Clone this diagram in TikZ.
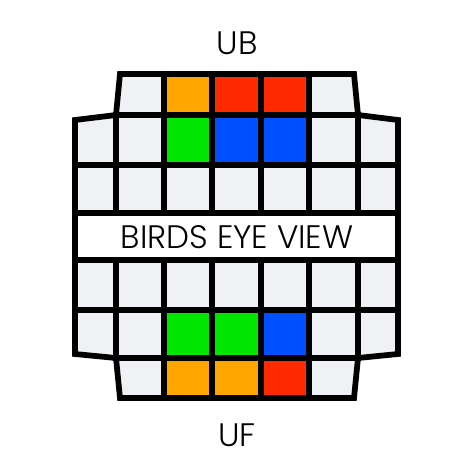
\documentclass[tikz,border=0pt]{standalone}
\usepackage{fontspec}
\setmainfont{Poppins Light}
\definecolor{cubewhite}{HTML}{F0F1F5}
\definecolor{cubeorange}{HTML}{FFA500}
\definecolor{cubered}{HTML}{FF2A00}
\definecolor{cubegreen}{HTML}{00E600}
\definecolor{cubeblue}{HTML}{0050FF}
\tikzset{
  sticker/.style={draw=black, line width=0.115cm, fill=cubewhite},
  facelabel/.style={font=\fontsize{18.5}{22}\selectfont, text=black, inner sep=0pt}
}
\begin{document}
\begin{tikzpicture}[x=0.02cm, y=-0.02cm]
      \useasboundingbox (0,0) rectangle (474,474);
      % top row
      \draw[sticker] (120,74) -- (164,74) -- (164,115) -- (116,115) -- cycle;
      \draw[sticker, fill=cubeorange] (164,74) rectangle (212,115);
      \draw[sticker, fill=cubered] (212,74) rectangle (261,115);
      \draw[sticker, fill=cubered] (261,74) rectangle (309,115);
      \draw[sticker] (309,74) -- (354,74) -- (358,115) -- (309,115) -- cycle;
      % second row
      \draw[sticker] (75,120) -- (116,115) -- (116,165) -- (75,165) -- cycle;
      \draw[sticker] (116,115) rectangle (164,165);
      \draw[sticker, fill=cubegreen] (164,115) rectangle (212,165);
      \draw[sticker, fill=cubeblue] (212,115) rectangle (261,165);
      \draw[sticker, fill=cubeblue] (261,115) rectangle (309,165);
      \draw[sticker] (309,115) rectangle (358,165);
      \draw[sticker] (358,115) -- (398,120) -- (398,165) -- (358,165) -- cycle;
      % third row
      \draw[sticker] (75,165) rectangle (116,213);
      \draw[sticker] (116,165) rectangle (164,213);
      \draw[sticker] (164,165) rectangle (212,213);
      \draw[sticker] (212,165) rectangle (261,213);
      \draw[sticker] (261,165) rectangle (309,213);
      \draw[sticker] (309,165) rectangle (358,213);
      \draw[sticker] (358,165) rectangle (398,213);
      % band
      \draw[sticker, fill=white] (75,213) rectangle (398,260);
      \node[facelabel] (view) at (237,237) {BIRDS EYE VIEW};
      % fourth row
      \draw[sticker] (75,260) rectangle (116,310);
      \draw[sticker] (116,260) rectangle (164,310);
      \draw[sticker] (164,260) rectangle (212,310);
      \draw[sticker] (212,260) rectangle (261,310);
      \draw[sticker] (261,260) rectangle (309,310);
      \draw[sticker] (309,260) rectangle (358,310);
      \draw[sticker] (358,260) rectangle (398,310);
      % fifth row
      \draw[sticker] (75,310) -- (116,310) -- (116,358) -- (75,354) -- cycle;
      \draw[sticker] (116,310) rectangle (164,358);
      \draw[sticker, fill=cubegreen] (164,310) rectangle (212,358);
      \draw[sticker, fill=cubegreen] (212,310) rectangle (261,358);
      \draw[sticker, fill=cubeblue] (261,310) rectangle (309,358);
      \draw[sticker] (309,310) rectangle (358,358);
      \draw[sticker] (358,310) -- (398,310) -- (398,354) -- (358,358) -- cycle;
      % bottom row
      \draw[sticker] (116,358) -- (164,358) -- (164,398) -- (120,398) -- cycle;
      \draw[sticker, fill=cubeorange] (164,358) rectangle (212,398);
      \draw[sticker, fill=cubeorange] (212,358) rectangle (261,398);
      \draw[sticker, fill=cubered] (261,358) rectangle (309,398);
      \draw[sticker] (309,358) -- (358,358) -- (354,398) -- (309,398) -- cycle;
      % labels
      \node[facelabel] (ub) at (237,43) {UB};
      \node[facelabel] (uf) at (237,435) {UF};
    \end{tikzpicture}
\end{document}
